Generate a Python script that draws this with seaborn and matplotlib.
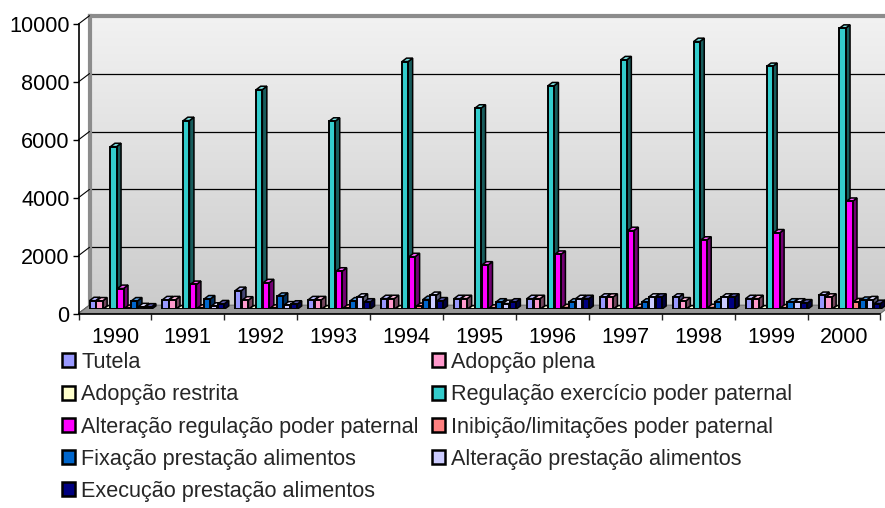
import numpy as np
import pandas as pd
import matplotlib
matplotlib.use("Agg")
import matplotlib.pyplot as plt
from matplotlib.patches import Polygon, Patch, Rectangle
from matplotlib.lines import Line2D
from matplotlib.colors import LinearSegmentedColormap, to_rgb
import seaborn as sns

# ---- data -------------------------------------------------------------
anos = ["1990", "1991", "1992", "1993", "1994", "1995",
        "1996", "1997", "1998", "1999", "2000"]

series = [
    "Tutela",
    "Adopção plena",
    "Adopção restrita",
    "Regulação exercício poder paternal",
    "Alteração regulação poder paternal",
    "Inibição/limitações poder paternal",
    "Fixação prestação alimentos",
    "Alteração prestação alimentos",
    "Execução prestação alimentos",
]

cores = ["#9999FF", "#FF99CC", "#FFFFCC", "#33CCCC", "#FF00FF",
         "#FF8080", "#0066CC", "#CCCCFF", "#000080"]

tutela = [300, 330, 650, 330, 370, 370, 370, 420, 420, 370, 480]
adopcao_plena = [290, 330, 320, 330, 370, 370, 370, 420, 290, 370, 420]
adopcao_restrita = [10, 10, 10, 10, 10, 10, 10, 10, 10, 10, 10]
regulacao = [5620, 6520, 7590, 6500, 8560, 6950, 7720, 8620, 9250, 8390, 9710]
alteracao_regulacao = [720, 860, 920, 1320, 1820, 1530, 1900, 2720, 2390, 2640, 3730]
inibicao = [30, 40, 40, 40, 100, 40, 60, 60, 60, 50, 260]
fixacao = [290, 360, 450, 290, 340, 250, 250, 250, 250, 250, 310]
alteracao_prestacao = [90, 110, 150, 420, 480, 200, 370, 420, 420, 250, 330]
execucao = [80, 190, 180, 250, 290, 250, 370, 420, 420, 220, 200]

valores = [tutela, adopcao_plena, adopcao_restrita, regulacao,
           alteracao_regulacao, inibicao, fixacao, alteracao_prestacao,
           execucao]

df = pd.DataFrame(
    [(a, s, v[i]) for s, v in zip(series, valores) for i, a in enumerate(anos)],
    columns=["ano", "serie", "valor"],
)

yticks = [0, 2000, 4000, 6000, 8000, 10000]

# ---- figure / geometry (pixels, origin top-left) -----------------------
sns.set_theme(style="white")
plt.rcParams["font.family"] = ["Liberation Sans", "DejaVu Sans"]
FS = 15.6

W, H = 885, 508
fig = plt.figure(figsize=(W / 100, H / 100), dpi=100)
fig.patch.set_facecolor("white")


def box(x0, y0, x1, y1):
    return [x0 / W, 1 - y1 / H, (x1 - x0) / W, (y1 - y0) / H]


def fpt(x, y):
    return (x / W, 1 - y / H)


X0, X1 = 78.5, 880.4      # front x-axis extent
Y0, Y10 = 313.5, 24.0     # front positions of 0 and 10000
DX, DY = 11.0, 8.3        # depth of the 3-D box

# back wall with a soft vertical gradient
ax_wall = fig.add_axes(box(X0 + DX, Y10 - DY, X1 + DX, Y0 - DY), zorder=0)
cmap = LinearSegmentedColormap.from_list("wall", ["#cccccc", "#f2f2f2"])
grad = np.linspace(0, 1, 256).reshape(-1, 1)
ax_wall.imshow(grad, extent=[0, 1, 0, 10000], origin="lower", aspect="auto",
               cmap=cmap, interpolation="bicubic")
ax_wall.set_xlim(0, 1)
ax_wall.set_ylim(0, 10000)
for v in yticks[1:-1]:
    ax_wall.axhline(v, color="black", lw=0.9)
ax_wall.set_xticks([])
ax_wall.set_yticks([])
for s in ["right", "bottom"]:
    ax_wall.spines[s].set_visible(False)
for s in ["left", "top"]:
    ax_wall.spines[s].set_color("#8c8c8c")
    ax_wall.spines[s].set_linewidth(3)

# floor
floor = Polygon([fpt(X0, Y0), fpt(X1, Y0), fpt(X1 + DX, Y0 - DY), fpt(X0 + DX, Y0 - DY)],
                closed=True, transform=fig.transFigure, fc="#999999", ec="#707070",
                lw=0.8, zorder=1)
fig.patches.append(floor)

# short connectors from the value ticks to the back wall
for v in yticks:
    yv = Y0 - (Y0 - Y10) * v / 10000
    fig.lines.append(Line2D([X0 / W, (X0 + DX) / W], [1 - yv / H, 1 - (yv - DY) / H],
                            transform=fig.transFigure, color="black", lw=0.8, zorder=1))

# front axes (axis lines, ticks and labels)
ax = fig.add_axes(box(X0, Y10, X1, Y0), zorder=2)
ax.set_facecolor("none")
ax.set_xlim(-0.5, len(anos) - 0.5)
ax.set_ylim(0, 10000)
ax.set_yticks(yticks)
ax.set_yticklabels([str(v) for v in yticks], fontsize=FS)
ax.set_xticks(range(len(anos)))
ax.set_xticklabels(anos, fontsize=FS)
ax.set_xticks(np.arange(-0.5, len(anos), 1.0), minor=True)
ax.tick_params(axis="y", which="major", direction="out", length=4.5, width=1,
               pad=2, colors="black", left=True)
ax.tick_params(axis="x", which="major", length=0, pad=10, colors="black")
ax.tick_params(axis="x", which="minor", direction="out", length=4, width=1,
               bottom=True)
for s in ["top", "right"]:
    ax.spines[s].set_visible(False)
for s in ["left", "bottom"]:
    ax.spines[s].set_color("black")
    ax.spines[s].set_linewidth(1.2)
ax.grid(False)

# bars, placed at mid-depth of the box
ax_b = fig.add_axes(box(X0 + DX / 2, Y10 - DY / 2, X1 + DX / 2, Y0 - DY / 2), zorder=3)
sns.barplot(data=df, x="ano", y="valor", hue="serie", hue_order=series,
            order=anos, palette=cores, width=0.86, gap=0.12, errorbar=None,
            edgecolor="black", linewidth=1.4, saturation=1, legend=False, ax=ax_b)
ax_b.set_xlim(-0.5, len(anos) - 0.5)
ax_b.set_ylim(0, 10000)
ax_b.set_facecolor("none")
ax_b.axis("off")

px_per_x = (X1 - X0) / len(anos)
px_per_y = (Y0 - Y10) / 10000
ddx = 4.5 / px_per_x
ddy = 3.4 / px_per_y

rects = sorted([p for p in ax_b.patches if isinstance(p, Rectangle)],
               key=lambda p: p.get_x())
for k, p in enumerate(rects):
    x, w, h = p.get_x(), p.get_width(), p.get_height()
    c = np.array(to_rgb(p.get_facecolor()))
    side = c * 0.45
    top = c + (1 - c) * 0.35
    z = 10 + 2 * k
    p.set_zorder(z + 1)
    ax_b.add_patch(Polygon([(x + w, 0), (x + w + ddx, ddy), (x + w + ddx, h + ddy), (x + w, h)],
                           closed=True, fc=side, ec="black", lw=1.1, zorder=z))
    ax_b.add_patch(Polygon([(x, h), (x + w, h), (x + w + ddx, h + ddy), (x + ddx, h + ddy)],
                           closed=True, fc=top, ec="black", lw=1.1, zorder=z))

# legend in two columns, filled row by row
handles = [Patch(facecolor=c, edgecolor="black", linewidth=1.8) for c in cores]
ordem = [0, 2, 4, 6, 8, 1, 3, 5, 7]
fig.legend([handles[i] for i in ordem], [series[i] for i in ordem], ncol=2,
           loc="upper left", bbox_to_anchor=(62 / W, 1 - 352 / H),
           frameon=False, fontsize=FS, handlelength=0.62, handleheight=0.62,
           handletextpad=0.27, columnspacing=0.6, labelspacing=0.52,
           borderpad=0, borderaxespad=0)

fig.savefig("out.png", dpi=100)
